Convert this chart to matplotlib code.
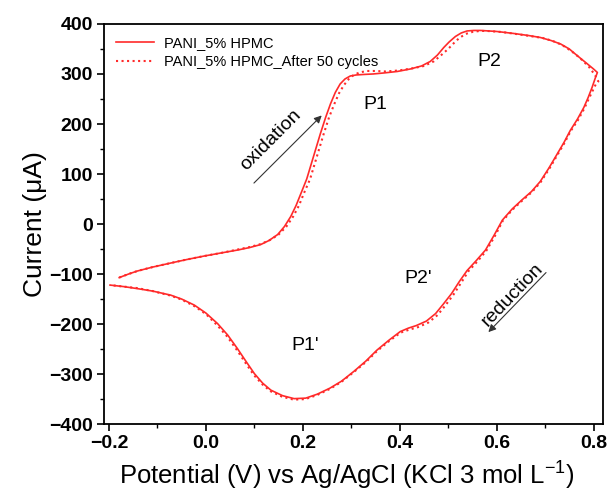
import numpy as np
import matplotlib
matplotlib.use('Agg')
import matplotlib.pyplot as plt
from matplotlib.ticker import MultipleLocator

plt.rcParams['font.family'] = ['Liberation Sans', 'DejaVu Sans']
plt.rcParams['mathtext.fontset'] = 'custom'
plt.rcParams['mathtext.rm'] = 'Liberation Sans'

# PANI_5% HPMC (first cycle), traced along the loop: anodic branch then cathodic branch
pot_1 = [-0.179, -0.160, -0.142, -0.110, -0.073, -0.040, -0.004, 0.030, 0.065, 0.090,
         0.113, 0.130, 0.148, 0.162, 0.175, 0.186, 0.196, 0.208, 0.222, 0.236,
         0.247, 0.257, 0.267, 0.277, 0.287, 0.298, 0.310, 0.325, 0.345, 0.367,
         0.395, 0.422, 0.445, 0.463, 0.478, 0.491, 0.502, 0.515, 0.527, 0.539,
         0.553, 0.567, 0.600, 0.635, 0.665, 0.690, 0.712, 0.732, 0.750, 0.766,
         0.785, 0.800, 0.808,
         0.803, 0.797, 0.789, 0.780, 0.767, 0.752, 0.739, 0.725, 0.708, 0.690,
         0.672, 0.652, 0.632, 0.612, 0.595, 0.577, 0.558, 0.539, 0.523, 0.507,
         0.490, 0.474, 0.455, 0.434, 0.418, 0.401, 0.378, 0.353, 0.330, 0.306,
         0.280, 0.256, 0.230, 0.206, 0.182, 0.158, 0.134, 0.117, 0.100, 0.083,
         0.065, 0.045, 0.024, 0.000, -0.024, -0.050, -0.073, -0.110, -0.142, -0.170,
         -0.198]
cur_1 = [-107, -100, -94, -86, -78, -71, -64, -58, -52, -47,
         -41, -33, -21, -5, 15, 37, 61, 90, 135, 180,
         213, 240, 263, 280, 290, 296, 298, 299, 300, 302,
         305, 310, 316, 325, 338, 353, 364, 375, 382, 386,
         387, 387, 385, 381, 377, 373, 367, 360, 350, 337,
         322, 310, 303,
         290, 273, 253, 233, 210, 187, 163, 140, 112, 85,
         65, 48, 30, 8, -22, -52, -73, -93, -115, -139,
         -160, -179, -194, -203, -208, -215, -232, -252, -274, -294,
         -314, -328, -340, -348, -349, -343, -332, -318, -299, -275,
         -249, -222, -199, -178, -162, -150, -142, -134, -129, -125,
         -122]

# PANI_5% HPMC after 50 cycles
pot_50 = [-0.179, -0.160, -0.142, -0.110, -0.073, -0.040, -0.004, 0.030, 0.065, 0.090,
          0.113, 0.132, 0.150, 0.166, 0.180, 0.192, 0.202, 0.215, 0.229, 0.243,
          0.254, 0.265, 0.275, 0.285, 0.295, 0.305, 0.317, 0.332, 0.350, 0.370,
          0.398, 0.425, 0.450, 0.470, 0.486, 0.500, 0.511, 0.523, 0.536, 0.550,
          0.565, 0.580, 0.610, 0.640, 0.668, 0.695, 0.716, 0.735, 0.754, 0.772,
          0.790, 0.803, 0.810,
          0.805, 0.799, 0.790, 0.781, 0.768, 0.753, 0.740, 0.726, 0.709, 0.691,
          0.673, 0.653, 0.633, 0.613, 0.597, 0.579, 0.561, 0.542, 0.527, 0.511,
          0.494, 0.478, 0.459, 0.438, 0.420, 0.402, 0.378, 0.353, 0.330, 0.305,
          0.279, 0.255, 0.229, 0.205, 0.181, 0.157, 0.133, 0.116, 0.099, 0.082,
          0.064, 0.044, 0.023, 0.000, -0.024, -0.050, -0.073, -0.110, -0.142, -0.170,
          -0.198]
cur_50 = [-107, -100, -94, -86, -78, -71, -64, -58, -51, -46,
          -40, -32, -21, -5, 15, 37, 61, 90, 135, 180,
          213, 240, 262, 278, 290, 298, 303, 306, 306, 305,
          307, 311, 316, 325, 338, 350, 361, 372, 380, 384,
          386, 386, 384, 380, 376, 372, 366, 358, 346, 332,
          315, 298, 285,
          280, 268, 250, 231, 208, 186, 162, 139, 111, 84,
          64, 47, 29, 7, -23, -53, -74, -94, -117, -141,
          -163, -182, -197, -206, -211, -217, -234, -254, -276, -296,
          -316, -330, -342, -350, -351, -345, -334, -320, -302, -278,
          -252, -225, -202, -180, -164, -151, -143, -134, -128, -125,
          -122]

red = '#ff2a2a'

fig = plt.figure(figsize=(6.13, 4.99), dpi=100)
ax = fig.add_axes([0.170, 0.150, 0.814, 0.802])

ax.plot(pot_1, cur_1, color=red, lw=1.2, label='PANI_5% HPMC')
ax.plot(pot_50, cur_50, color=red, lw=1.5, ls=':', label='PANI_5% HPMC_After 50 cycles')

ax.set_xlim(-0.21, 0.82)
ax.set_ylim(-400, 400)
ax.xaxis.set_major_locator(MultipleLocator(0.2))
ax.xaxis.set_minor_locator(MultipleLocator(0.1))
ax.yaxis.set_major_locator(MultipleLocator(100))
ax.yaxis.set_minor_locator(MultipleLocator(50))
ax.tick_params(which='major', direction='out', length=5, width=1.2, labelsize=14, pad=3)
ax.tick_params(which='minor', direction='out', length=3, width=1.0)
for lab in ax.get_xticklabels() + ax.get_yticklabels():
    lab.set_fontweight('bold')
for s in ax.spines.values():
    s.set_linewidth(1.3)

ax.set_xlabel('Potential (V) vs Ag/AgCl (KCl 3 mol L$^{\\mathregular{-1}}$)', fontsize=18.5, labelpad=4)
ax.xaxis.set_label_coords(0.487, -0.085)
ax.set_ylabel('Current (μA)', fontsize=19, labelpad=2)

ax.legend(loc='upper left', frameon=False, fontsize=10.5, handlelength=2.6,
          borderaxespad=0.4, labelspacing=0.35, handletextpad=0.7)

ax.text(0.35, 238, 'P1', fontsize=14, ha='center', va='center')
ax.text(0.585, 324, 'P2', fontsize=14, ha='center', va='center')
ax.text(0.438, -108, "P2'", fontsize=14, ha='center', va='center')
ax.text(0.205, -242, "P1'", fontsize=14, ha='center', va='center')

ax.annotate('', xy=(0.243, 221), xytext=(0.095, 78),
            arrowprops=dict(arrowstyle='-|>', color='#333333', lw=0.8, mutation_scale=11))
ax.text(0.133, 168, 'oxidation', fontsize=14, rotation=45, ha='center', va='center')
ax.annotate('', xy=(0.579, -220), xytext=(0.706, -93),
            arrowprops=dict(arrowstyle='-|>', color='#333333', lw=0.8, mutation_scale=11))
ax.text(0.632, -142, 'reduction', fontsize=14, rotation=46, ha='center', va='center')

fig.savefig('out.png', dpi=100)
